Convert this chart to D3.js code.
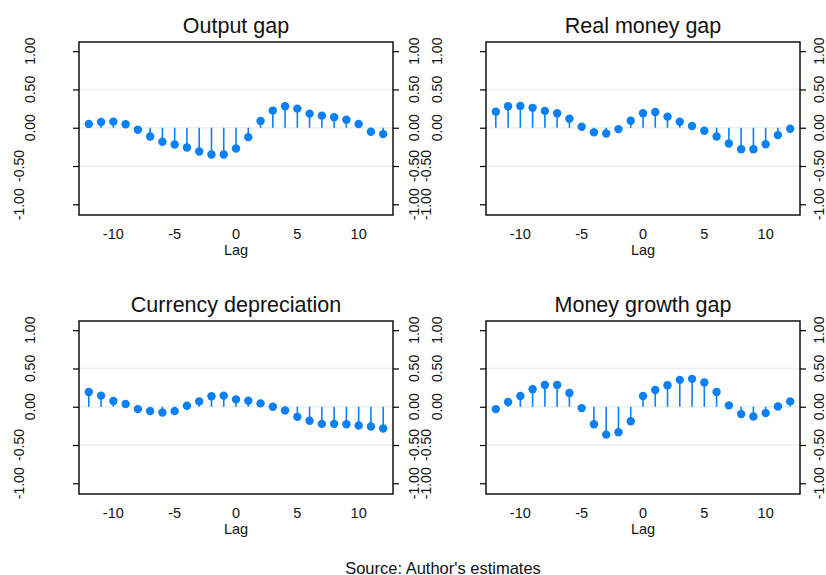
<!DOCTYPE html>
<html>
<head>
<meta charset="utf-8">
<script src="https://cdn.jsdelivr.net/npm/d3@7"></script>
<style>
  html, body { margin: 0; padding: 0; background: #fff; }
  svg { display: block; font-family: "Liberation Sans", Arial, Helvetica, sans-serif; }
</style>
</head>
<body>
<svg id="chart" width="826" height="575"></svg>
<script>
// ---- data ----
const lags = d3.range(-12, 13);
const titles = ["Output gap", "Real money gap", "Currency depreciation", "Money growth gap"];
const outputGap = [0.05, 0.075, 0.08, 0.045, -0.026, -0.114, -0.184, -0.219, -0.259, -0.311, -0.35, -0.35, -0.272, -0.123, 0.088, 0.224, 0.281, 0.25, 0.184, 0.158, 0.136, 0.105, 0.048, -0.053, -0.083];
const realMoneyGap = [0.21, 0.28, 0.285, 0.26, 0.22, 0.19, 0.118, 0.013, -0.061, -0.075, -0.018, 0.092, 0.19, 0.206, 0.145, 0.079, 0.022, -0.039, -0.114, -0.206, -0.28, -0.28, -0.215, -0.096, -0.013];
const currencyDep = [0.193, 0.145, 0.075, 0.035, -0.031, -0.057, -0.075, -0.057, 0.013, 0.07, 0.136, 0.145, 0.096, 0.079, 0.044, 0.0, -0.048, -0.132, -0.184, -0.224, -0.224, -0.228, -0.246, -0.259, -0.285];
const moneyGrowthGap = [-0.031, 0.061, 0.14, 0.228, 0.285, 0.285, 0.18, -0.018, -0.228, -0.364, -0.333, -0.189, 0.14, 0.219, 0.281, 0.351, 0.364, 0.316, 0.193, 0.018, -0.096, -0.127, -0.083, 0.004, 0.07];
const seriesList = [outputGap, realMoneyGap, currencyDep, moneyGrowthGap];
const yTicks = [-1, -0.5, 0, 0.5, 1];
const xTicks = [-10, -5, 0, 5, 10];
const gridVals = [-0.5, 0, 0.5];
const xLabel = "Lag";
const sourceNote = "Source: Author's estimates";

// ---- layout ----
const panelBoxes = [
  {left: 79, right: 393, top: 42, bottom: 215, rOff: 26},
  {left: 486, right: 800, top: 42, bottom: 215, rOff: 23.5},
  {left: 79, right: 393, top: 321, bottom: 494, rOff: 26},
  {left: 486, right: 800, top: 321, bottom: 494, rOff: 23.5}
];
const blue = "#0a80f7";
const svg = d3.select("#chart");

panelBoxes.forEach((b, i) => {
  const data = seriesList[i];
  const x = d3.scaleLinear().domain([-12.8, 12.8]).range([b.left, b.right]);
  const y = d3.scaleLinear().domain([-1.14, 1.12]).range([b.bottom, b.top]);
  const g = svg.append("g");

  // grid lines
  g.selectAll("line.grid").data(gridVals).join("line")
    .attr("x1", b.left).attr("x2", b.right)
    .attr("y1", d => y(d)).attr("y2", d => y(d))
    .attr("stroke", "#e9f1f3").attr("stroke-width", 1.4);

  // stems
  g.selectAll("line.stem").data(lags).join("line")
    .attr("x1", d => x(d)).attr("x2", d => x(d))
    .attr("y1", y(0)).attr("y2", (d, j) => y(data[j]))
    .attr("stroke", blue).attr("stroke-width", 1.6);

  // markers
  g.selectAll("circle").data(lags).join("circle")
    .attr("cx", d => x(d)).attr("cy", (d, j) => y(data[j]))
    .attr("r", 4.2).attr("fill", blue);

  // frame
  g.append("rect")
    .attr("x", b.left).attr("y", b.top)
    .attr("width", b.right - b.left).attr("height", b.bottom - b.top)
    .attr("fill", "none").attr("stroke", "#000").attr("stroke-width", 1.4);

  // left axis
  const la = g.append("g").attr("transform", `translate(${b.left},0)`)
    .call(d3.axisLeft(y).tickValues(yTicks).tickSize(6).tickFormat(""));
  la.select(".domain").remove();
  la.selectAll(".tick line").attr("stroke", "#000").attr("stroke-width", 1.2);
  // right axis
  const ra = g.append("g").attr("transform", `translate(${b.right},0)`)
    .call(d3.axisRight(y).tickValues(yTicks).tickSize(6).tickFormat(""));
  ra.select(".domain").remove();
  ra.selectAll(".tick line").attr("stroke", "#000").attr("stroke-width", 1.2);

  // left tick labels (rotated; negatives staggered outward)
  g.selectAll("text.yl").data(yTicks).join("text")
    .attr("transform", d => `translate(${b.left - (d < 0 ? 55 : 44)},${y(d)}) rotate(-90)`)
    .attr("text-anchor", "middle").attr("font-size", 14).attr("fill", "#111")
    .text(d => d3.format(".2f")(d).replace("−", "-"));
  // right tick labels
  g.selectAll("text.yr").data(yTicks).join("text")
    .attr("transform", d => `translate(${b.right + b.rOff},${y(d)}) rotate(-90)`)
    .attr("text-anchor", "middle").attr("font-size", 14).attr("fill", "#111")
    .text(d => d3.format(".2f")(d).replace("−", "-"));

  // x tick labels
  g.selectAll("text.xl").data(xTicks).join("text")
    .attr("x", d => x(d)).attr("y", b.bottom + 24.3)
    .attr("text-anchor", "middle").attr("font-size", 14.5).attr("fill", "#111")
    .text(d => d3.format("")(d).replace("−", "-"));

  // x label
  g.append("text")
    .attr("x", (b.left + b.right) / 2).attr("y", b.bottom + 39.5)
    .attr("text-anchor", "middle").attr("font-size", 14.5).attr("fill", "#111")
    .text(xLabel);

  // title
  g.append("text")
    .attr("x", (b.left + b.right) / 2).attr("y", b.top - 8.7)
    .attr("text-anchor", "middle").attr("font-size", 21.5).attr("fill", "#111")
    .text(titles[i]);
});

svg.append("text")
  .attr("x", 443).attr("y", 573.5)
  .attr("text-anchor", "middle").attr("font-size", 16.5).attr("fill", "#111")
  .text(sourceNote);
</script>
</body>
</html>
